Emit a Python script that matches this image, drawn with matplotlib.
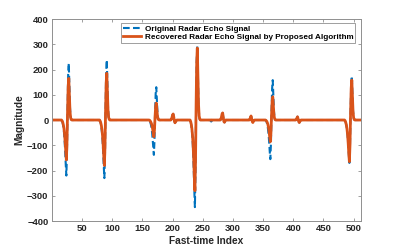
import matplotlib
matplotlib.use("Agg")
import matplotlib.pyplot as plt
import numpy as np

# ─── Data ────────────────────────────────────────────────────────────────────
N_SAMPLES = 512

# each echo event: first sample index, then sample values from there on
seg_starts = [17, 80, 162, 198, 230, 263, 280, 328, 355, 405, 486]

orig_segs = [
    [-4, -13, -26, -46, -77, -121, -176, -220, -132, 45, 180, 225, 135, 50, 14, 3],
    [-5, -14, -28, -48, -80, -127, -184, -230, -138, 48, 190, 238, 143, 52, 14, 4],
    [-3, -8, -17, -29, -48, -76, -110, -138, -83, 26, 104, 130, 78, 29, 8, 2],
    [3, 10, 20, 24, 12, -4, -11, -7, -2],
    [-7, -21, -41, -72, -121, -190, -276, -345, -207, 59, 236, 295, 177, 65, 18, 4],
    [-3, -6, -3],
    [3, 12, 24, 28, 10, -6, -9, -4],
    [3, 10, 16, 6, -6, -10, -5, -1],
    [-3, -9, -19, -33, -54, -85, -124, -155, -93, 32, 126, 158, 95, 35, 9, 2],
    [2, 8, 13, 5, -6, -10, -5, -1],
    [-3, -10, -20, -36, -60, -94, -136, -170, -102, 35, 139, 174, 104, 38, 10, 3],
]

rec_segs = [
    [-3, -9, -19, -33, -55, -87, -126, -158, -95, 33, 132, 165, 99, 36, 10, 2],
    [-4, -11, -22, -38, -63, -99, -144, -180, -108, 37, 148, 185, 111, 41, 11, 3],
    [-1, -4, -8, -14, -23, -36, -53, -66, -40, 13, 54, 67, 40, 15, 4, 1],
    [3, 10, 20, 24, 12, -4, -11, -7, -2],
    [-6, -17, -34, -59, -98, -154, -224, -280, -168, 57, 228, 285, 171, 63, 17, 4],
    [0, -1, 0],
    [3, 12, 24, 28, 10, -6, -9, -4],
    [3, 10, 16, 6, -6, -10, -5, -1],
    [-2, -5, -10, -18, -30, -47, -69, -86, -52, 18, 74, 92, 55, 20, 6, 1],
    [2, 8, 13, 5, -6, -10, -5, -1],
    [-3, -10, -20, -35, -58, -91, -132, -165, -99, 32, 126, 158, 95, 35, 9, 2],
]

LABELS = ["Original Radar Echo Signal",
          "Recovered Radar Echo Signal by Proposed Algorithm"]

# ─── Style ───────────────────────────────────────────────────────────────────
BLUE = "#0072BD"
RED = "#D95319"
AXIS_GRAY = "#8f8f8f"
TEXT = "#262626"

plt.rcParams["font.family"] = ["Liberation Sans", "DejaVu Sans"]
plt.rcParams["font.weight"] = "bold"


def build(segs):
    sig = np.zeros(N_SAMPLES)
    for start, vals in zip(seg_starts, segs):
        sig[start - 1:start - 1 + len(vals)] = vals
    return sig


n = np.arange(1, N_SAMPLES + 1)
orig = build(orig_segs)
rec = build(rec_segs)

fig = plt.figure(figsize=(3.99, 2.49), dpi=100)
fig.patch.set_facecolor("white")
ax = fig.add_axes([0.130, 0.1124, 0.7744, 0.8112])

ax.plot(n, orig, color=BLUE, lw=1.5, dashes=(3.2, 1.6), label=LABELS[0])
ax.plot(n, rec, color=RED, lw=2.0, label=LABELS[1])

ax.set_xlim(0, 512)
ax.set_ylim(-400, 400)
ax.set_xticks(np.arange(50, 501, 50))
ax.set_yticks(np.arange(-400, 401, 100))

for sp in ax.spines.values():
    sp.set_color(AXIS_GRAY)
    sp.set_linewidth(0.7)
ax.tick_params(direction="in", length=2.5, width=0.6, color=AXIS_GRAY,
               top=True, right=True, labelsize=6.8, labelcolor=TEXT, pad=2.5)
for lab in ax.get_xticklabels() + ax.get_yticklabels():
    lab.set_fontweight("bold")

ax.set_xlabel("Fast-time Index", fontsize=7.3, fontweight="bold", color=TEXT, labelpad=1.5)
ax.set_ylabel("Magnitude", fontsize=7.3, fontweight="bold", color=TEXT)
ax.yaxis.set_label_coords(-0.09, 0.5)

leg = ax.legend(loc="upper right", bbox_to_anchor=(0.981, 0.979), borderaxespad=0,
                prop={"weight": "bold", "size": 5.9},
                handlelength=2.2, handletextpad=0.5, labelspacing=0.1,
                borderpad=0.2, fancybox=False, framealpha=1)
leg.get_frame().set_edgecolor(AXIS_GRAY)
leg.get_frame().set_linewidth(0.6)

fig.savefig("out.png", dpi=100, facecolor="white")
